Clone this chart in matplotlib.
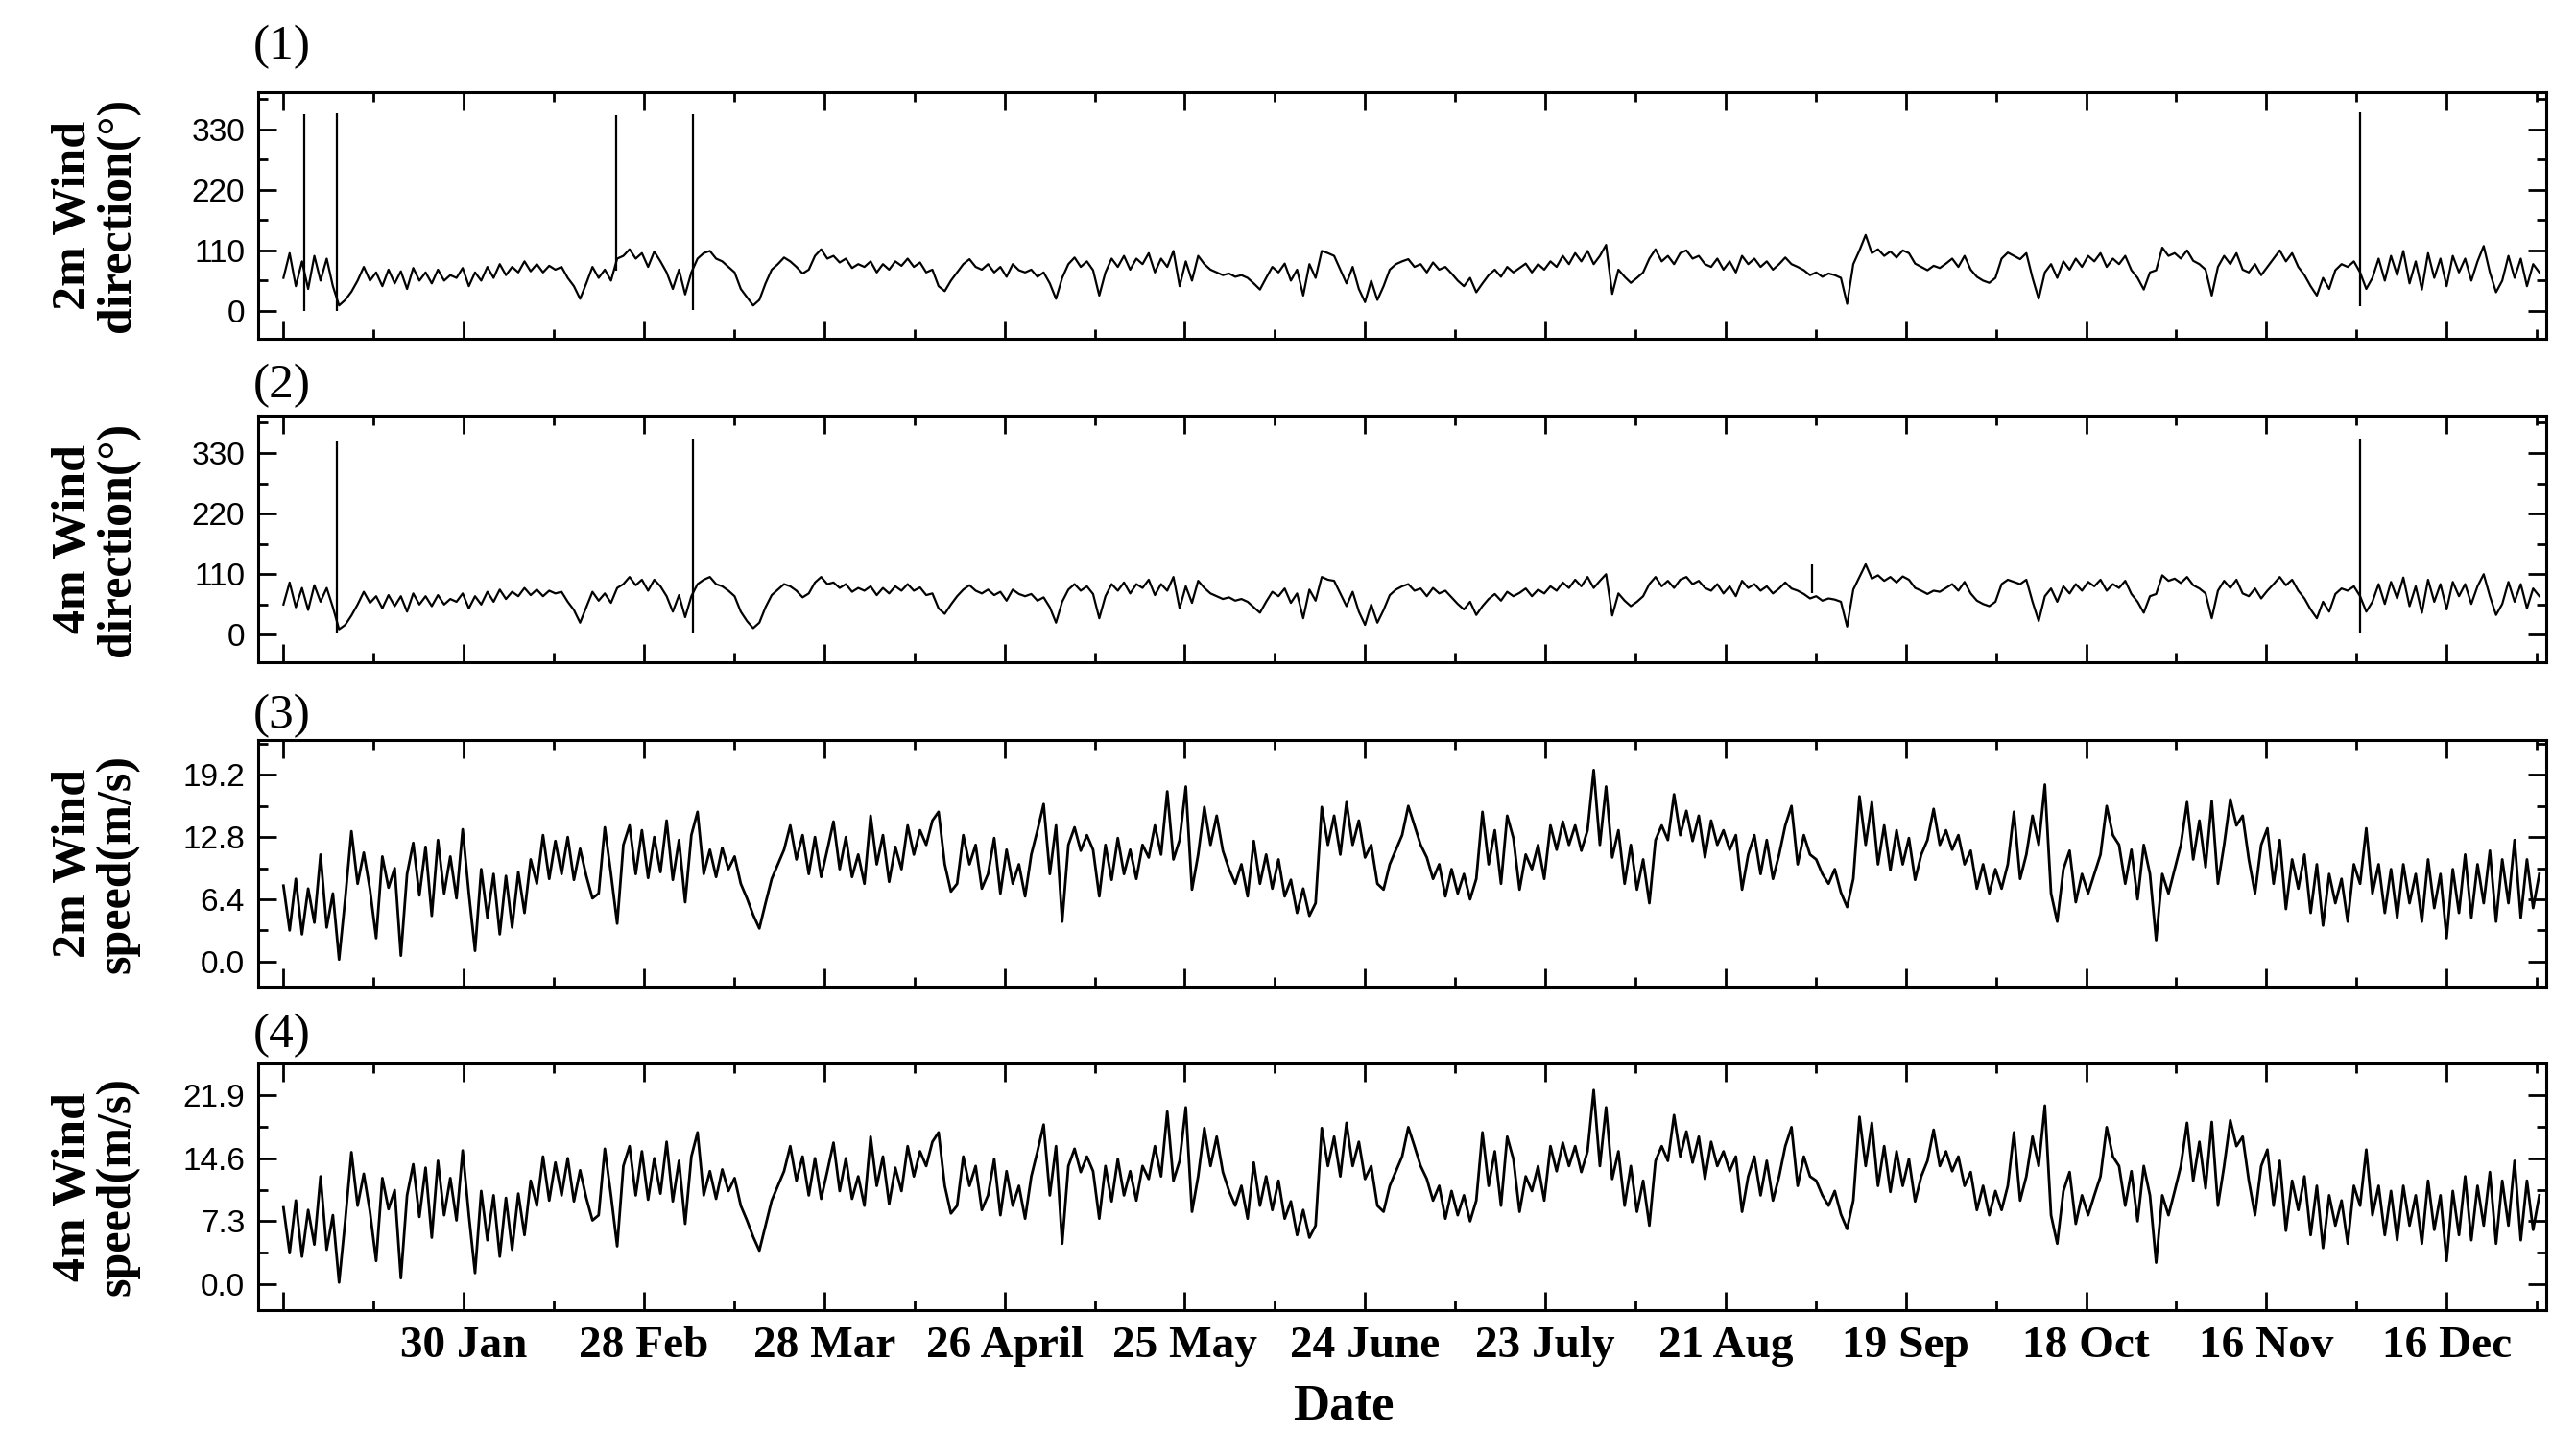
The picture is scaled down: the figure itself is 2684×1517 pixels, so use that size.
import numpy as np
import matplotlib
matplotlib.use("Agg")
import matplotlib.pyplot as plt

# day of year for each daily reading (0 = 1 Jan)
days = np.arange(366)

dir_2m = [
    60, 105, 45, 90, 40, 100, 55, 95, 45, 10,
    20, 35, 55, 80, 55, 70, 45, 75, 50, 72,
    40, 78, 55, 70, 50, 75, 55, 65, 60, 78,
    45, 70, 55, 80, 60, 85, 65, 80, 70, 90,
    72, 85, 70, 82, 75, 80, 60, 45, 22, 50,
    80, 60, 75, 55, 95, 100, 112, 95, 105, 80,
    108, 90, 70, 40, 75, 30, 70, 95, 105, 109,
    95, 90, 80, 70, 40, 25, 10, 20, 50, 75,
    85, 97, 90, 80, 68, 75, 100, 112, 95, 100,
    88, 95, 78, 85, 80, 90, 70, 85, 75, 90,
    82, 95, 80, 88, 70, 75, 45, 36, 55, 70,
    85, 94, 80, 75, 85, 70, 80, 62, 85, 74,
    70, 75, 62, 70, 50, 22, 60, 85, 97, 80,
    90, 74, 28, 70, 95, 80, 100, 75, 95, 85,
    105, 70, 95, 80, 109, 45, 90, 55, 100, 85,
    75, 70, 65, 68, 62, 65, 60, 50, 39, 60,
    80, 70, 86, 55, 75, 28, 85, 60, 109, 105,
    100, 75, 50, 80, 40, 16, 55, 20, 45, 75,
    85, 90, 94, 80, 85, 70, 88, 75, 80, 68,
    55, 45, 60, 34, 50, 65, 75, 62, 80, 70,
    78, 86, 70, 85, 75, 90, 80, 100, 85, 105,
    90, 109, 85, 100, 120, 31, 75, 62, 51, 60,
    70, 95, 112, 90, 100, 85, 105, 110, 95, 100,
    85, 80, 95, 75, 90, 70, 100, 85, 95, 80,
    90, 75, 85, 97, 85, 80, 74, 65, 70, 62,
    68, 65, 60, 13, 85, 110, 138, 105, 112, 100,
    108, 97, 110, 105, 86, 80, 74, 82, 78, 86,
    95, 80, 100, 75, 62, 55, 51, 60, 95, 106,
    100, 94, 105, 60, 22, 70, 85, 60, 90, 75,
    95, 80, 100, 90, 105, 80, 95, 85, 100, 74,
    60, 39, 70, 74, 115, 100, 105, 95, 110, 91,
    85, 75, 28, 80, 100, 85, 105, 75, 70, 85,
    65, 80, 95, 110, 90, 105, 80, 65, 45, 28,
    60, 40, 74, 85, 80, 90, 70, 40, 60, 95,
    55, 100, 65, 109, 50, 90, 39, 105, 60, 95,
    45, 100, 70, 95, 55, 90, 118, 70, 34, 55,
    100, 60, 95, 45, 85, 70,
]

dir_4m = [
    55, 95, 50, 85, 45, 90, 60, 85, 50, 10,
    18, 35, 55, 78, 58, 70, 48, 72, 52, 70,
    42, 75, 55, 70, 52, 72, 55, 65, 60, 75,
    48, 70, 55, 78, 60, 82, 65, 78, 70, 85,
    72, 82, 70, 80, 75, 78, 60, 45, 22, 50,
    78, 62, 75, 58, 85, 92, 105, 90, 100, 80,
    100, 88, 70, 42, 72, 32, 70, 92, 100, 105,
    92, 88, 80, 70, 42, 25, 12, 22, 50, 72,
    82, 92, 88, 80, 68, 75, 95, 105, 92, 95,
    85, 92, 78, 85, 80, 88, 72, 85, 75, 88,
    80, 92, 80, 86, 72, 75, 48, 38, 55, 70,
    82, 90, 80, 75, 82, 72, 78, 62, 82, 74,
    70, 74, 62, 68, 50, 22, 60, 82, 92, 80,
    88, 74, 30, 70, 92, 80, 95, 75, 92, 85,
    100, 72, 92, 80, 105, 48, 88, 58, 98, 85,
    75, 70, 65, 68, 62, 65, 60, 50, 40, 60,
    78, 70, 84, 58, 75, 30, 82, 62, 105, 100,
    98, 75, 52, 78, 42, 18, 55, 22, 45, 72,
    82, 88, 92, 80, 84, 70, 85, 75, 80, 68,
    56, 46, 60, 36, 52, 65, 74, 62, 78, 70,
    76, 84, 70, 82, 75, 88, 80, 95, 85, 100,
    88, 105, 85, 98, 110, 35, 75, 62, 52, 60,
    70, 92, 105, 88, 98, 85, 100, 105, 92, 98,
    85, 80, 92, 75, 88, 70, 98, 85, 92, 80,
    88, 75, 84, 95, 84, 80, 74, 66, 70, 62,
    66, 64, 60, 15, 82, 105, 128, 102, 108, 98,
    105, 95, 106, 100, 85, 80, 74, 80, 78, 85,
    92, 80, 96, 75, 62, 56, 52, 60, 92, 100,
    96, 92, 100, 60, 25, 70, 84, 60, 88, 75,
    92, 80, 96, 88, 100, 80, 92, 85, 98, 74,
    60, 40, 70, 74, 108, 98, 102, 94, 105, 90,
    84, 75, 30, 80, 98, 85, 100, 75, 70, 84,
    66, 80, 92, 105, 90, 100, 80, 66, 46, 30,
    60, 42, 74, 84, 80, 88, 70, 42, 60, 92,
    56, 96, 66, 104, 52, 88, 40, 100, 60, 92,
    46, 96, 70, 92, 56, 88, 110, 70, 36, 56,
    96, 60, 92, 48, 84, 70,
]

speed_2m = [
    7.8, 3.2, 8.5, 2.8, 7.5, 4.0, 11.0, 3.5, 7.0, 0.2,
    6.5, 13.4, 8.0, 11.2, 7.4, 2.4, 10.8, 7.6, 9.6, 0.6,
    9.0, 12.2, 6.8, 11.8, 4.7, 12.5, 7.0, 10.8, 6.5, 13.6,
    7.0, 1.1, 9.5, 4.5, 9.0, 2.8, 8.8, 3.5, 9.2, 5.0,
    10.5, 8.0, 13.0, 8.5, 12.4, 9.0, 12.8, 8.4, 11.6, 8.8,
    6.5, 7.0, 13.8, 9.0, 3.9, 12.0, 14.0, 9.0, 13.5, 8.6,
    12.8, 9.2, 14.5, 8.4, 12.5, 6.1, 13.0, 15.4, 9.0, 11.5,
    8.7, 11.7, 9.5, 10.8, 8.0, 6.5, 4.8, 3.4, 6.0, 8.5,
    10.0, 11.5, 14.0, 10.5, 13.0, 9.0, 12.8, 8.7, 11.5, 14.4,
    9.5, 12.8, 8.7, 11.0, 8.0, 15.0, 10.0, 13.0, 8.2, 11.8,
    9.5, 14.0, 11.0, 13.5, 12.0, 14.5, 15.4, 10.0, 7.2, 8.0,
    13.0, 10.0, 12.0, 7.5, 9.0, 12.7, 7.0, 11.5, 8.0, 10.0,
    6.7, 11.0, 13.5, 16.2, 9.0, 14.0, 4.1, 12.0, 13.8, 11.4,
    13.0, 11.5, 6.7, 12.0, 8.4, 12.7, 9.0, 11.5, 8.5, 12.0,
    10.7, 14.0, 11.0, 17.5, 10.5, 12.5, 18.0, 7.4, 11.0, 15.9,
    12.0, 15.0, 11.4, 9.5, 8.0, 10.0, 6.7, 12.4, 8.0, 11.0,
    7.5, 10.5, 6.7, 8.4, 5.0, 7.5, 4.7, 6.0, 15.9, 12.0,
    15.0, 11.0, 16.4, 12.0, 14.5, 10.7, 12.0, 8.0, 7.4, 10.0,
    11.5, 13.0, 16.0, 14.0, 12.0, 10.7, 8.5, 10.0, 6.7, 9.5,
    7.0, 9.0, 6.4, 8.5, 15.4, 10.0, 13.5, 8.0, 15.0, 12.7,
    7.4, 11.0, 9.5, 12.0, 8.5, 14.0, 11.5, 14.4, 12.0, 14.0,
    11.4, 13.5, 19.7, 12.0, 18.0, 10.7, 13.5, 8.0, 12.0, 7.4,
    10.5, 6.0, 12.5, 14.0, 12.5, 17.2, 13.0, 15.5, 12.4, 15.0,
    10.7, 14.5, 12.0, 13.5, 11.5, 13.0, 7.4, 11.0, 13.0, 9.0,
    12.5, 8.5, 11.0, 14.0, 16.0, 10.0, 13.0, 11.0, 10.5, 9.0,
    8.0, 9.5, 7.1, 5.6, 8.5, 17.0, 12.0, 16.4, 10.0, 14.0,
    9.4, 13.5, 10.0, 12.7, 8.4, 11.0, 12.5, 15.7, 12.0, 13.5,
    11.5, 13.0, 10.0, 11.4, 7.5, 10.0, 7.0, 9.5, 7.5, 10.0,
    15.4, 8.5, 11.0, 15.0, 12.0, 18.2, 7.0, 4.1, 9.5, 11.4,
    6.1, 9.0, 7.0, 9.0, 11.0, 16.0, 13.0, 12.0, 8.0, 11.5,
    6.4, 12.0, 9.0, 2.2, 9.0, 7.0, 9.5, 12.0, 16.4, 10.5,
    14.5, 9.7, 16.5, 8.0, 12.0, 16.7, 14.0, 15.0, 10.5, 7.0,
    12.0, 13.7, 8.0, 12.5, 5.4, 10.5, 7.5, 11.0, 5.0, 10.0,
    3.7, 9.0, 6.0, 8.5, 4.1, 10.0, 8.0, 13.7, 7.0, 10.0,
    5.0, 9.5, 4.5, 10.0, 6.0, 9.0, 4.1, 10.5, 5.5, 9.0,
    2.4, 9.5, 5.0, 11.0, 4.5, 10.0, 6.0, 11.4, 4.1, 10.5,
    6.0, 12.5, 4.5, 10.5, 5.5, 9.0,
]

speed_4m = [
    8.9, 3.6, 9.7, 3.2, 8.6, 4.6, 12.5, 4.0, 8.0, 0.2,
    7.4, 15.3, 9.1, 12.8, 8.4, 2.7, 12.3, 8.7, 10.9, 0.7,
    10.3, 13.9, 7.8, 13.5, 5.4, 14.3, 8.0, 12.3, 7.4, 15.5,
    8.0, 1.3, 10.8, 5.1, 10.3, 3.2, 10.0, 4.0, 10.5, 5.7,
    12.0, 9.1, 14.8, 9.7, 14.1, 10.3, 14.6, 9.6, 13.2, 10.0,
    7.4, 8.0, 15.7, 10.3, 4.4, 13.7, 16.0, 10.3, 15.4, 9.8,
    14.6, 10.5, 16.5, 9.6, 14.3, 7.0, 14.8, 17.6, 10.3, 13.1,
    9.9, 13.3, 10.8, 12.3, 9.1, 7.4, 5.5, 3.9, 6.8, 9.7,
    11.4, 13.1, 16.0, 12.0, 14.8, 10.3, 14.6, 9.9, 13.1, 16.4,
    10.8, 14.6, 9.9, 12.5, 9.1, 17.1, 11.4, 14.8, 9.3, 13.5,
    10.8, 16.0, 12.5, 15.4, 13.7, 16.5, 17.6, 11.4, 8.2, 9.1,
    14.8, 11.4, 13.7, 8.6, 10.3, 14.5, 8.0, 13.1, 9.1, 11.4,
    7.6, 12.5, 15.4, 18.5, 10.3, 16.0, 4.7, 13.7, 15.7, 13.0,
    14.8, 13.1, 7.6, 13.7, 9.6, 14.5, 10.3, 13.1, 9.7, 13.7,
    12.2, 16.0, 12.5, 20.0, 12.0, 14.3, 20.5, 8.4, 12.5, 18.1,
    13.7, 17.1, 13.0, 10.8, 9.1, 11.4, 7.6, 14.1, 9.1, 12.5,
    8.6, 12.0, 7.6, 9.6, 5.7, 8.6, 5.4, 6.8, 18.1, 13.7,
    17.1, 12.5, 18.7, 13.7, 16.5, 12.2, 13.7, 9.1, 8.4, 11.4,
    13.1, 14.8, 18.2, 16.0, 13.7, 12.2, 9.7, 11.4, 7.6, 10.8,
    8.0, 10.3, 7.3, 9.7, 17.6, 11.4, 15.4, 9.1, 17.1, 14.5,
    8.4, 12.5, 10.8, 13.7, 9.7, 16.0, 13.1, 16.4, 13.7, 16.0,
    13.0, 15.4, 22.5, 13.7, 20.5, 12.2, 15.4, 9.1, 13.7, 8.4,
    12.0, 6.8, 14.3, 16.0, 14.3, 19.6, 14.8, 17.7, 14.1, 17.1,
    12.2, 16.5, 13.7, 15.4, 13.1, 14.8, 8.4, 12.5, 14.8, 10.3,
    14.3, 9.7, 12.5, 16.0, 18.2, 11.4, 14.8, 12.5, 12.0, 10.3,
    9.1, 10.8, 8.1, 6.4, 9.7, 19.4, 13.7, 18.7, 11.4, 16.0,
    10.7, 15.4, 11.4, 14.5, 9.6, 12.5, 14.3, 17.9, 13.7, 15.4,
    13.1, 14.8, 11.4, 13.0, 8.6, 11.4, 8.0, 10.8, 8.6, 11.4,
    17.6, 9.7, 12.5, 17.1, 13.7, 20.7, 8.0, 4.7, 10.8, 13.0,
    7.0, 10.3, 8.0, 10.3, 12.5, 18.2, 14.8, 13.7, 9.1, 13.1,
    7.3, 13.7, 10.3, 2.5, 10.3, 8.0, 10.8, 13.7, 18.7, 12.0,
    16.5, 11.1, 18.8, 9.1, 13.7, 19.0, 16.0, 17.1, 12.0, 8.0,
    13.7, 15.6, 9.1, 14.3, 6.2, 12.0, 8.6, 12.5, 5.7, 11.4,
    4.2, 10.3, 6.8, 9.7, 4.7, 11.4, 9.1, 15.6, 8.0, 11.4,
    5.7, 10.8, 5.1, 11.4, 6.8, 10.3, 4.7, 12.0, 6.3, 10.3,
    2.7, 10.8, 5.7, 12.5, 5.1, 11.4, 6.8, 13.0, 4.7, 12.0,
    6.8, 14.3, 5.1, 12.0, 6.3, 10.3,
]

# single-hour direction jumps (day, low, high)
spike_days_2m = [3.4, 8.7, 53.9, 66.2, 336.0]
spike_low_2m = [0, 0, 74, 2, 8]
spike_high_2m = [357, 359, 355, 357, 361]

spike_days_4m = [8.7, 66.2, 247.4, 336.0]
spike_low_4m = [2, 2, 75, 2]
spike_high_4m = [353, 356, 127, 356]

date_labels = ["", "30 Jan", "28 Feb", "28 Mar", "26 April", "25 May",
               "24 June", "23 July", "21 Aug", "19 Sep", "18 Oct",
               "16 Nov", "16 Dec"]

ylabels = ["2m Wind\ndirection(°)", "4m Wind\ndirection(°)",
           "2m Wind\nspeed(m/s)", "4m Wind\nspeed(m/s)"]
panel_tags = ["(1)", "(2)", "(3)", "(4)"]

dir_ticks = [0, 110, 220, 330]
speed2_ticks = [0.0, 6.4, 12.8, 19.2]
speed4_ticks = [0.0, 7.3, 14.6, 21.9]

plt.rcParams["font.family"] = ["Liberation Serif", "DejaVu Serif"]

fig = plt.figure(figsize=(26.84, 15.17), dpi=100)

left, width, height = 0.1002, 0.8882, 0.1695
bottoms = [0.7675, 0.5451, 0.3223, 0.1002]
tag_y = [0.968, 0.735, 0.508, 0.289]

series = [dir_2m, dir_4m, speed_2m, speed_4m]
spikes = [(spike_days_2m, spike_low_2m, spike_high_2m),
          (spike_days_4m, spike_low_4m, spike_high_4m),
          None, None]
yticks = [dir_ticks, dir_ticks, speed2_ticks, speed4_ticks]
ylims = [(-50, 398), (-50, 398), (-2.6, 22.8), (-3.0, 25.6)]
line_w = [1.6, 1.6, 2.0, 2.0]

major_days = np.arange(13) * 700 / 24
minor_days = np.arange(26) * 350 / 24

for i in range(4):
    ax = fig.add_axes([left, bottoms[i], width, height])
    ax.plot(days, series[i], color="black", lw=line_w[i])
    if spikes[i] is not None:
        d, lo, hi = spikes[i]
        ax.vlines(d, lo, hi, color="black", lw=1.6)

    ax.set_xlim(-4.1, 366.1)
    ax.set_ylim(*ylims[i])

    t = yticks[i]
    if i < 2:
        tl = [str(v) for v in t]
    else:
        tl = [f"{v:.1f}" for v in t]
    ax.set_yticks(t, tl, fontfamily="Liberation Sans", fontsize=24)
    step = t[1] - t[0]
    ax.set_yticks([v + step / 2 for v in t], minor=True)

    if i == 3:
        ax.set_xticks(major_days, date_labels, fontsize=34, fontweight="bold")
    else:
        ax.set_xticks(major_days, [""] * len(major_days))
    ax.set_xticks(minor_days, minor=True)

    ax.tick_params(which="both", direction="in", top=True, right=True, width=2)
    ax.tick_params(which="major", length=14)
    ax.tick_params(which="minor", length=7)
    ax.tick_params(axis="y", pad=10)
    ax.tick_params(axis="x", pad=12)
    for s in ax.spines.values():
        s.set_linewidth(2.2)

    ax.text(-0.071, 0.5, ylabels[i], transform=ax.transAxes, rotation=90,
            ha="center", va="center", multialignment="center",
            fontsize=36, fontweight="bold", linespacing=1.0)
    fig.text(0.1096, tag_y[i], panel_tags[i], ha="center", va="center",
             fontsize=37)

fig.text(0.5216, 0.034, "Date", ha="center", va="center",
         fontsize=38, fontweight="bold")

fig.savefig("out.png", dpi=100)
